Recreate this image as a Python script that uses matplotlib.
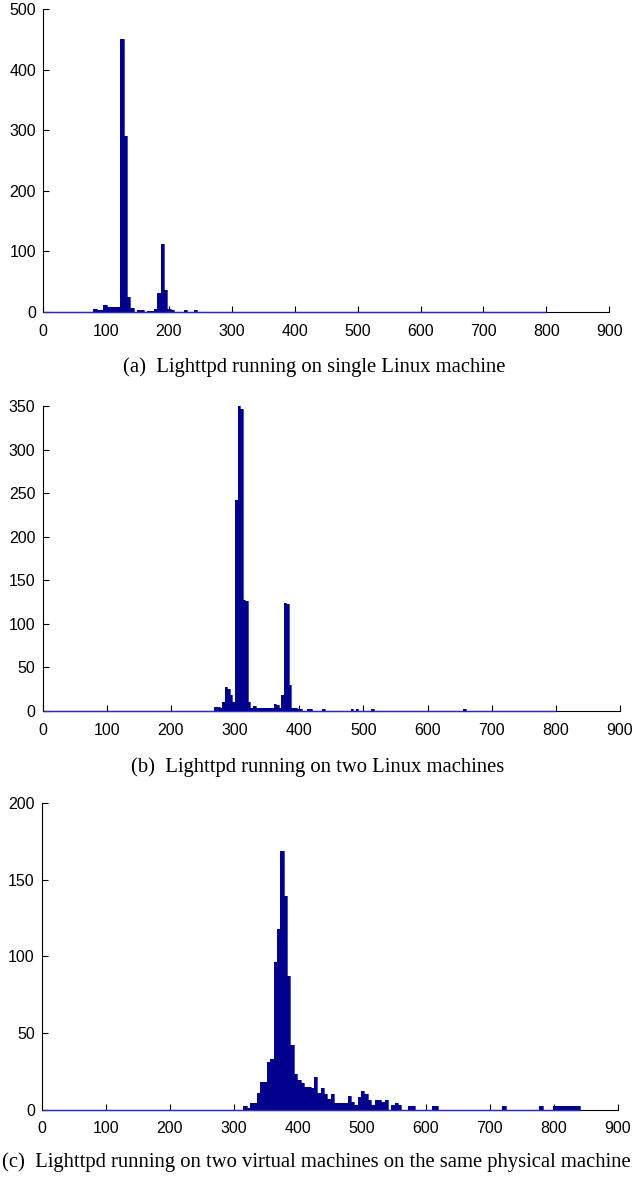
import numpy as np
import matplotlib
matplotlib.use("Agg")
import matplotlib.pyplot as plt
from matplotlib import font_manager

# ---------------- data ----------------
# (a) single Linux machine: 150 bins over [0, 800]
a_range = (0, 800)
a_nbins = 150
a_bin = [15, 16, 17, 18, 19, 20, 21, 22, 23, 24, 25, 26, 28, 29, 31, 32, 33,
         34, 35, 36, 37, 38, 42, 45]
a_count = [5, 3, 3, 11, 9, 8, 9, 9, 450, 290, 25, 7, 3, 3, 2, 2, 5,
           32, 113, 36, 5, 3, 3, 3]
a_line = (0, 800)
a_yticks = [0, 100, 200, 300, 400, 500]

# (b) two Linux machines: 200 bins over [0, 800]
b_range = (0, 800)
b_nbins = 200
b_bin = [67, 68, 69, 70, 71, 72, 73, 74, 75, 76, 77, 78, 79, 80, 81, 82, 83,
         84, 85, 86, 87, 88, 89, 90, 91, 92, 93, 94, 95, 96, 97, 98, 99, 100,
         103, 104, 109, 120, 122, 128, 164]
b_count = [5, 5, 3, 10, 27, 25, 18, 10, 242, 350, 347, 127, 126, 10, 4, 6, 4,
           4, 3, 4, 4, 4, 4, 8, 7, 4, 18, 124, 123, 30, 3, 3, 2, 2,
           2, 2, 2, 2, 2, 2, 2]
b_line = (0, 800)
b_yticks = [0, 50, 100, 150, 200, 250, 300, 350]

# (c) two virtual machines: 100 bins over [315, 840]
c_range = (315, 840)
c_nbins = 100
c_bin = [0, 1, 2, 3, 4, 5, 6, 7, 8, 9, 10, 11, 12, 13, 14, 15, 16, 17, 18, 19,
         20, 21, 22, 23, 24, 25, 26, 27, 28, 29, 30, 31, 32, 33, 34, 35, 36,
         37, 38, 39, 40, 41, 42, 44, 45, 46, 49, 50, 56, 57, 77, 88,
         92, 93, 94, 95, 96, 97, 98, 99]
c_count = [2, 1, 4, 4, 11, 18, 18, 31, 33, 96, 118, 169, 139, 87, 42, 23, 19,
           17, 15, 15, 14, 21, 11, 14, 10, 7, 10, 4, 4, 4, 4, 9, 5, 3, 8, 12,
           10, 6, 3, 6, 6, 5, 6, 3, 4, 3, 2, 2, 2, 2, 2, 2,
           2, 2, 2, 2, 2, 2, 2, 2]
c_line = (0, 840)
c_yticks = [0, 50, 100, 150, 200]

x_ticks = [0, 100, 200, 300, 400, 500, 600, 700, 800, 900]

captions = [
    "(a)  Lighttpd running on single Linux machine",
    "(b)  Lighttpd running on two Linux machines",
    "(c)  Lighttpd running on two virtual machines on the same physical machine",
]

# ---------------- styling / layout ----------------
W, H = 639, 1178
DPI = 100
BAR = "#00008C"
BASE = "#2B2BC4"

names = {f.name for f in font_manager.fontManager.ttflist}
if "Liberation Sans Narrow" in names:
    TICK_FAMILY, TICK_SIZE = ["Liberation Sans Narrow", "DejaVu Sans"], 12.5
else:
    TICK_FAMILY, TICK_SIZE = ["Liberation Sans", "DejaVu Sans"], 11.5
SERIF = ["Liberation Serif", "DejaVu Serif"]

fig = plt.figure(figsize=(W / DPI, H / DPI), dpi=DPI, facecolor="white")

# axes boxes in pixels: (left, right, top, bottom)
boxes = [(43.1, 609.3, 9.0, 312.0),
         (42.5, 620.0, 406.0, 711.0),
         (41.7, 618.0, 803.0, 1109.5)]
cap_y = [367, 767, 1162]
cap_x = [314.5, 318.0, 316.5]

panels = [
    (a_range, a_nbins, a_bin, a_count, a_line, a_yticks),
    (b_range, b_nbins, b_bin, b_count, b_line, b_yticks),
    (c_range, c_nbins, c_bin, c_count, c_line, c_yticks),
]

for (l, r, t, b), (rng, nb, idx, cnt, line, yt) in zip(boxes, panels):
    ax = fig.add_axes([l / W, 1 - b / H, (r - l) / W, (b - t) / H])
    edges = np.linspace(rng[0], rng[1], nb + 1)
    full = np.zeros(nb)
    full[np.asarray(idx)] = cnt
    ax.stairs(full, edges, fill=True, color=BAR, linewidth=0, zorder=2)
    ax.stairs(full, edges, fill=False, color=BAR, linewidth=0.5, zorder=2)
    ax.hlines(0, line[0], line[1], colors=BASE, linewidth=1.0, zorder=3,
              clip_on=False)
    ax.set_xlim(0, 900)
    ax.set_ylim(0, yt[-1])
    ax.set_xticks(x_ticks)
    ax.set_yticks(yt)
    for s in ("top", "right"):
        ax.spines[s].set_visible(False)
    for s in ("left", "bottom"):
        ax.spines[s].set_linewidth(0.8)
        ax.spines[s].set_color("black")
    ax.tick_params(axis="both", direction="in", length=4.5, width=0.8,
                   colors="black")
    ax.tick_params(axis="x", pad=8.5)
    ax.tick_params(axis="y", pad=5.0)
    for lab in ax.get_xticklabels() + ax.get_yticklabels():
        lab.set_family(TICK_FAMILY)
        lab.set_fontsize(TICK_SIZE)

# caption font size fitted to the widest caption (about 633 px wide)
renderer = fig.canvas.get_renderer()
probe = fig.text(0, 0, captions[2], fontsize=10, family=SERIF)
w10 = probe.get_window_extent(renderer).width
probe.remove()
cap_size = 10 * 633.0 / w10

for cx, cy, txt in zip(cap_x, cap_y, captions):
    fig.text(cx / W, 1 - cy / H, txt, ha="center", va="center",
             family=SERIF, fontsize=cap_size)

fig.savefig("out.png", dpi=DPI, facecolor="white")
